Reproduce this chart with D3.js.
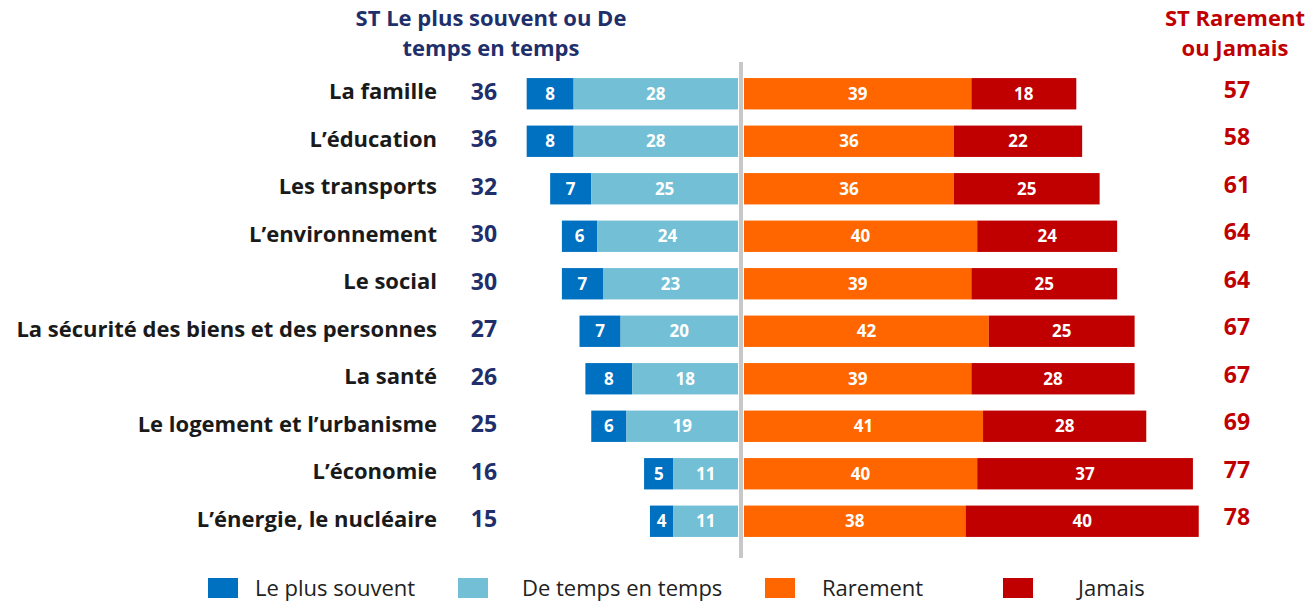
<!DOCTYPE html>
<html>
<head>
<meta charset="utf-8">
<script src="https://cdn.jsdelivr.net/npm/d3@7"></script>
<style>
  body { margin: 0; background: #fff; }
  text { font-family: "Open Sans", sans-serif; }
</style>
</head>
<body>
<div id="chart"></div>
<script>
// data
var categories = ["La famille", "L\u2019éducation", "Les transports", "L\u2019environnement",
    "Le social", "La sécurité des biens et des personnes", "La santé",
    "Le logement et l\u2019urbanisme", "L\u2019économie", "L\u2019énergie, le nucléaire"];
var plusSouvent   = [8, 8, 7, 6, 7, 7, 8, 6, 5, 4];
var tempsEnTemps  = [28, 28, 25, 24, 23, 20, 18, 19, 11, 11];
var rarement      = [39, 36, 36, 40, 39, 42, 39, 41, 40, 38];
var jamais        = [18, 22, 25, 24, 25, 25, 28, 28, 37, 40];
var totalLeft     = [36, 36, 32, 30, 30, 27, 26, 25, 16, 15];
var totalRight    = [57, 58, 61, 64, 64, 67, 67, 69, 77, 78];
var seriesNames   = ["Le plus souvent", "De temps en temps", "Rarement", "Jamais"];
var seriesColors  = ["#0070c0", "#73bfd6", "#ff6600", "#c00000"];

function init() {
    var w = 1310;
    var h = 601;

    var svg = d3.select("#chart")
        .append("svg")
        .attr("width", w)
        .attr("height", h);

    var y = d3.scaleBand()
        .domain(categories)
        .range([70, 545])
        .paddingInner(0.34)
        .paddingOuter(0.17);

    // left side grows leftwards from the centre line, right side rightwards
    var xL = d3.scaleLinear().domain([0, 40]).range([738, 738 - 40 * 5.87]);
    var xR = d3.scaleLinear().domain([0, 80]).range([744, 744 + 80 * 5.83]);

    var rows = categories.map(function (c, i) {
        return {cat: c, a: plusSouvent[i], b: tempsEnTemps[i], c: rarement[i], d: jamais[i],
                tl: totalLeft[i], tr: totalRight[i]};
    });

    // segments, one per coloured piece of a bar
    var segs = [];
    rows.forEach(function (r) {
        var tot = r.a + r.b;
        segs.push({cat: r.cat, x0: xL(tot), x1: xL(r.b), v: r.a, col: seriesColors[0]});
        segs.push({cat: r.cat, x0: xL(r.b), x1: xL(0), v: r.b, col: seriesColors[1]});
        segs.push({cat: r.cat, x0: xR(0), x1: xR(r.c), v: r.c, col: seriesColors[2]});
        segs.push({cat: r.cat, x0: xR(r.c), x1: xR(r.c + r.d), v: r.d, col: seriesColors[3]});
    });

    svg.selectAll("rect.seg")
        .data(segs)
        .enter()
        .append("rect")
        .attr("class", "seg")
        .attr("x", function (d) { return d.x0; })
        .attr("y", function (d) { return y(d.cat); })
        .attr("width", function (d) { return d.x1 - d.x0; })
        .attr("height", y.bandwidth())
        .style("fill", function (d) { return d.col; });

    svg.selectAll("text.seg")
        .data(segs)
        .enter()
        .append("text")
        .attr("class", "seg")
        .attr("x", function (d) { return (d.x0 + d.x1) / 2; })
        .attr("y", function (d) { return y(d.cat) + y.bandwidth() / 2; })
        .attr("dy", "0.36em")
        .attr("text-anchor", "middle")
        .style("fill", "#fff")
        .style("font-weight", "bold")
        .style("font-size", "17px")
        .text(function (d) { return d.v; });

    // centre line
    svg.append("line")
        .attr("x1", 741).attr("x2", 741)
        .attr("y1", 62).attr("y2", 558)
        .style("stroke", "#c8c8c8")
        .style("stroke-width", 4);

    // category labels
    svg.selectAll("text.cat")
        .data(rows)
        .enter()
        .append("text")
        .attr("class", "cat")
        .attr("x", 437)
        .attr("y", function (d) { return y(d.cat) + y.bandwidth() / 2 - 2; })
        .attr("dy", "0.35em")
        .attr("text-anchor", "end")
        .style("fill", "#1a1a1a")
        .style("font-weight", "bold")
        .style("font-size", "22px")
        .text(function (d) { return d.cat; });

    svg.selectAll("text.tl")
        .data(rows)
        .enter()
        .append("text")
        .attr("class", "tl")
        .attr("x", 484)
        .attr("y", function (d) { return y(d.cat) + y.bandwidth() / 2 - 2; })
        .attr("dy", "0.35em")
        .attr("text-anchor", "middle")
        .style("fill", "#1f2f6b")
        .style("font-weight", "bold")
        .style("font-size", "23px")
        .text(function (d) { return d.tl; });

    svg.selectAll("text.tr")
        .data(rows)
        .enter()
        .append("text")
        .attr("class", "tr")
        .attr("x", 1237)
        .attr("y", function (d) { return y(d.cat) + y.bandwidth() / 2 - 4; })
        .attr("dy", "0.35em")
        .attr("text-anchor", "middle")
        .style("fill", "#c00000")
        .style("font-weight", "bold")
        .style("font-size", "23px")
        .text(function (d) { return d.tr; });

    // column headers
    var hl = svg.append("text")
        .attr("x", 491).attr("y", 26)
        .attr("text-anchor", "middle")
        .style("fill", "#1f2f6b")
        .style("font-weight", "bold")
        .style("font-size", "22px");
    hl.append("tspan").attr("x", 491).text("ST Le plus souvent ou De");
    hl.append("tspan").attr("x", 491).attr("dy", 30).text("temps en temps");

    var hr = svg.append("text")
        .attr("x", 1235).attr("y", 26)
        .attr("text-anchor", "middle")
        .style("fill", "#c00000")
        .style("font-weight", "bold")
        .style("font-size", "22px");
    hr.append("tspan").attr("x", 1235).text("ST Rarement");
    hr.append("tspan").attr("x", 1235).attr("dy", 30).text("ou Jamais");

    // legend
    var legX = [208, 458, 765, 1003];
    var legTx = [255, 522, 822, 1078];
    var leg = svg.selectAll("g.leg")
        .data(seriesNames)
        .enter()
        .append("g")
        .attr("class", "leg");
    leg.append("rect")
        .attr("x", function (d, i) { return legX[i]; })
        .attr("y", 578)
        .attr("width", 30)
        .attr("height", 20)
        .style("fill", function (d, i) { return seriesColors[i]; });
    leg.append("text")
        .attr("x", function (d, i) { return legTx[i]; })
        .attr("y", 588)
        .attr("dy", "0.35em")
        .style("fill", "#222")
        .style("font-size", "22px")
        .text(function (d) { return d; });
}

window.onload = init;
</script>
</body>
</html>
